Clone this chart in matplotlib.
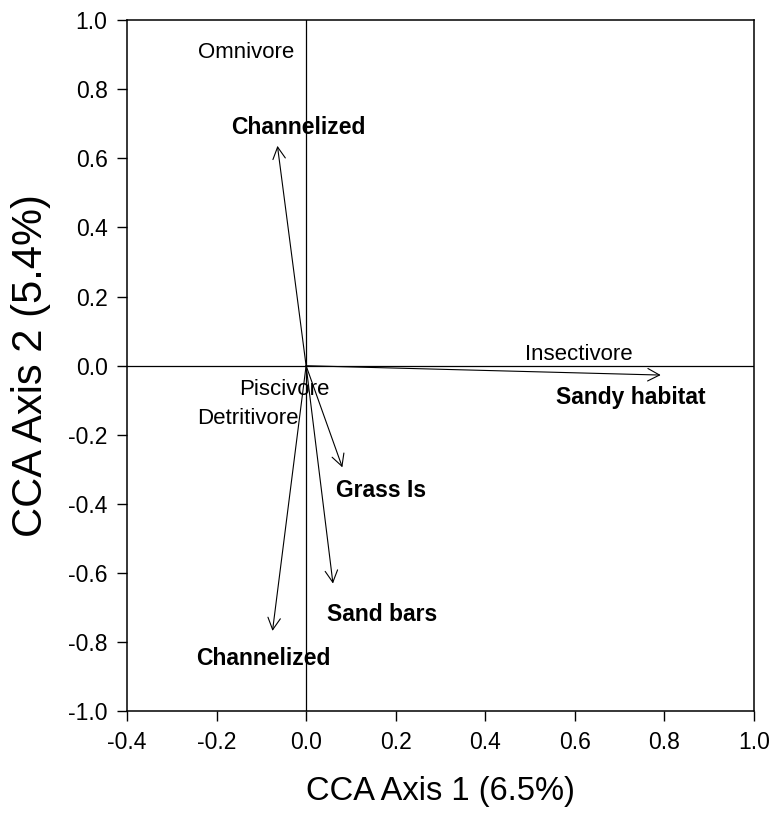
import matplotlib.pyplot as plt

plt.rcParams['font.family'] = ['Liberation Sans', 'DejaVu Sans']

# habitat vectors (arrow tips, CCA axis 1 / axis 2)
hab_names = ['Channelized', 'Sandy habitat', 'Grass Is', 'Sand bars', 'Channelized']
hab_x = [-0.064, 0.792, 0.081, 0.060, -0.075]
hab_y = [0.636, -0.027, -0.294, -0.630, -0.767]
hab_lx = [-0.017, 0.726, 0.168, 0.169, -0.095]
hab_ly = [0.689, -0.093, -0.362, -0.721, -0.846]

# feeding guilds
guild_names = ['Omnivore', 'Insectivore', 'Piscivore', 'Detritivore']
guild_x = [-0.135, 0.610, -0.049, -0.129]
guild_y = [0.907, 0.033, -0.070, -0.154]

xticks = [-0.4, -0.2, 0.0, 0.2, 0.4, 0.6, 0.8, 1.0]
yticks = [-1.0, -0.8, -0.6, -0.4, -0.2, 0.0, 0.2, 0.4, 0.6, 0.8, 1.0]

fig = plt.figure(figsize=(7.72, 8.14), dpi=100)
ax = fig.add_axes([0.1645, 0.126, 0.812, 0.8494])

ax.axhline(0, color='black', lw=0.9, zorder=1)
ax.axvline(0, color='black', lw=0.9, zorder=1)

for x, y in zip(hab_x, hab_y):
    ax.annotate('', xy=(x, y), xytext=(0, 0),
                arrowprops=dict(arrowstyle='->,head_length=0.85,head_width=0.45',
                                color='black', lw=0.8, shrinkA=0, shrinkB=0,
                                mutation_scale=10))

for name, x, y in zip(hab_names, hab_lx, hab_ly):
    ax.text(x, y, name, ha='center', va='center', fontsize=16.5, fontweight='bold')

for name, x, y in zip(guild_names, guild_x, guild_y):
    ax.text(x, y, name, ha='center', va='center', fontsize=16)

ax.set_xlim(-0.4, 1.0)
ax.set_ylim(-1.0, 1.0)
ax.set_xticks(xticks)
ax.set_yticks(yticks)
ax.set_xticklabels(['%.1f' % t for t in xticks])
ax.set_yticklabels(['%.1f' % t for t in yticks])
ax.tick_params(direction='out', length=7, width=1, labelsize=16.5, pad=7)

for s in ax.spines.values():
    s.set_linewidth(1.1)

ax.set_xlabel('CCA Axis 1 (6.5%)', fontsize=23.5, labelpad=16)
ax.set_ylabel('CCA Axis 2 (5.4%)', fontsize=30, labelpad=12)

fig.savefig('out.png', dpi=100)
